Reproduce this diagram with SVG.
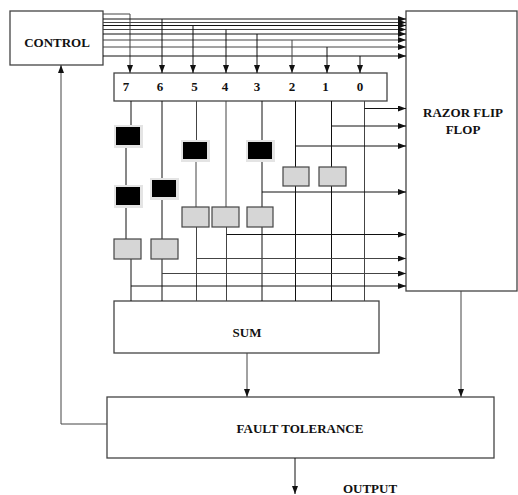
<svg xmlns="http://www.w3.org/2000/svg" width="518" height="495" viewBox="0 0 518 495">
<style>
.box{fill:#fff;stroke:#444;stroke-width:1.3}
.ln{fill:none;stroke:#111;stroke-width:1}
.lg{fill:none;stroke:#444;stroke-width:1}
.arr{marker-end:url(#ah)}
.t{font-family:"Liberation Serif","Times New Roman",serif;font-weight:bold;font-size:13px;fill:#111;text-anchor:middle}
.gb{fill:#d6d6d6;stroke:#444;stroke-width:1.2}
.bk{fill:#000}
.sh{fill:#e4e4e4}
</style>
<defs>
<marker id="ah" viewBox="0 0 8 6" refX="8" refY="3" markerWidth="8" markerHeight="6" markerUnits="userSpaceOnUse" orient="auto">
<path d="M0,0 L8,3 L0,6 Z" fill="#111"/>
</marker>
</defs>
<g id="control"><rect class="box" x="10" y="11" width="93" height="54"/><text class="t" x="57" y="47">CONTROL</text></g>
<g id="razor"><rect class="box" x="406" y="11" width="111" height="280"/><text class="t" x="463" y="117">RAZOR FLIP</text><text class="t" x="463" y="134">FLOP</text></g>
<g id="register"><rect class="box" x="114" y="73" width="273" height="28"/>
<text class="t" x="126" y="91">7</text><text class="t" x="160" y="91">6</text><text class="t" x="194.5" y="91">5</text><text class="t" x="225" y="91">4</text><text class="t" x="257" y="91">3</text><text class="t" x="292" y="91">2</text><text class="t" x="325.5" y="91">1</text><text class="t" x="360" y="91">0</text></g>
<g id="sum"><rect class="box" x="114" y="301" width="265" height="52"/><text class="t" x="247" y="337">SUM</text></g>
<g id="fault-tolerance"><rect class="box" x="107" y="397" width="387" height="61"/><text class="t" x="300" y="433">FAULT TOLERANCE</text></g>
<g id="output"><text class="t" x="370" y="493">OUTPUT</text></g>
<g id="black-boxes">
<rect class="sh" x="114" y="125" width="29" height="23"/><rect class="bk" x="116" y="127" width="24" height="18"/>
<rect class="sh" x="114" y="185" width="29" height="23"/><rect class="bk" x="116" y="187" width="24" height="18"/>
<rect class="sh" x="150" y="178" width="29" height="22"/><rect class="bk" x="152" y="180" width="24" height="17"/>
<rect class="sh" x="181" y="140" width="29" height="22"/><rect class="bk" x="183" y="142" width="24" height="17"/>
<rect class="sh" x="246" y="140" width="29" height="22"/><rect class="bk" x="248" y="142" width="24" height="17"/>
</g>
<g id="connectors">
<path class="lg" d="M103,14 H130 V73" marker-end="url(#ah)"/>
<path class="ln arr" d="M103,19 H406"/>
<path class="lg arr" d="M103,22.5 H406"/>
<path class="ln arr" d="M103,25.5 H406"/>
<path class="lg arr" d="M103,29.5 H406"/>
<path class="ln arr" d="M103,34 H406"/>
<path class="lg arr" d="M103,40 H406"/>
<path class="lg arr" d="M103,47 H406"/>
<path class="ln arr" d="M103,56 H406"/>
<path class="ln arr" d="M162,19 V73"/>
<path class="ln arr" d="M193,25.5 V73"/>
<path class="ln arr" d="M226,29.5 V73"/>
<path class="ln arr" d="M257,34 V73"/>
<path class="lg arr" d="M292,40 V73"/>
<path class="ln arr" d="M327,47 V73"/>
<path class="ln arr" d="M360,56 V73"/>
<path class="ln" d="M131,101 V125 M126,148 V185 M126,208 V239 M131,259 V301"/>
<path class="ln" d="M162,101 V178 M162,200 V239 M162,259 V301"/>
<path class="lg" d="M196.5,101 V140 M196,162 V207 M196.5,227 V301"/>
<path class="lg" d="M226,101 V207 M226.5,227 V301"/>
<path class="ln" d="M262,101 V140 M262,162 V207 M262,227 V301"/>
<path class="ln" d="M295.5,101 V167 M295.5,186 V301"/>
<path class="ln" d="M331.5,101 V167 M331.5,186 V301"/>
<path class="lg" d="M364.5,101 V301"/>
<path class="ln arr" d="M364.5,108.5 H406"/>
<path class="ln arr" d="M331.5,126 H406"/>
<path class="ln arr" d="M295.5,146 H406"/>
<path class="ln arr" d="M262,192 H406"/>
<path class="ln arr" d="M226.5,234.5 H406"/>
<path class="lg arr" d="M196.5,258.5 H406"/>
<path class="lg arr" d="M162,273.5 H406"/>
<path class="ln arr" d="M131,286 H406"/>
<path class="lg arr" d="M247,353 V397"/>
<path class="lg arr" d="M461,291 V397"/>
<path class="lg arr" d="M107,424 H61 V65"/>
<path class="ln arr" d="M295,458 V494"/>
</g>
<g id="gray-boxes">
<rect class="gb" x="114" y="239" width="27" height="20"/>
<rect class="gb" x="151" y="239" width="27" height="20"/>
<rect class="gb" x="182" y="207" width="27" height="20"/>
<rect class="gb" x="212" y="207" width="27" height="20"/>
<rect class="gb" x="247" y="207" width="26" height="20"/>
<rect class="gb" x="283" y="167" width="26" height="19"/>
<rect class="gb" x="319" y="167" width="27" height="19"/>
</g>
</svg>
